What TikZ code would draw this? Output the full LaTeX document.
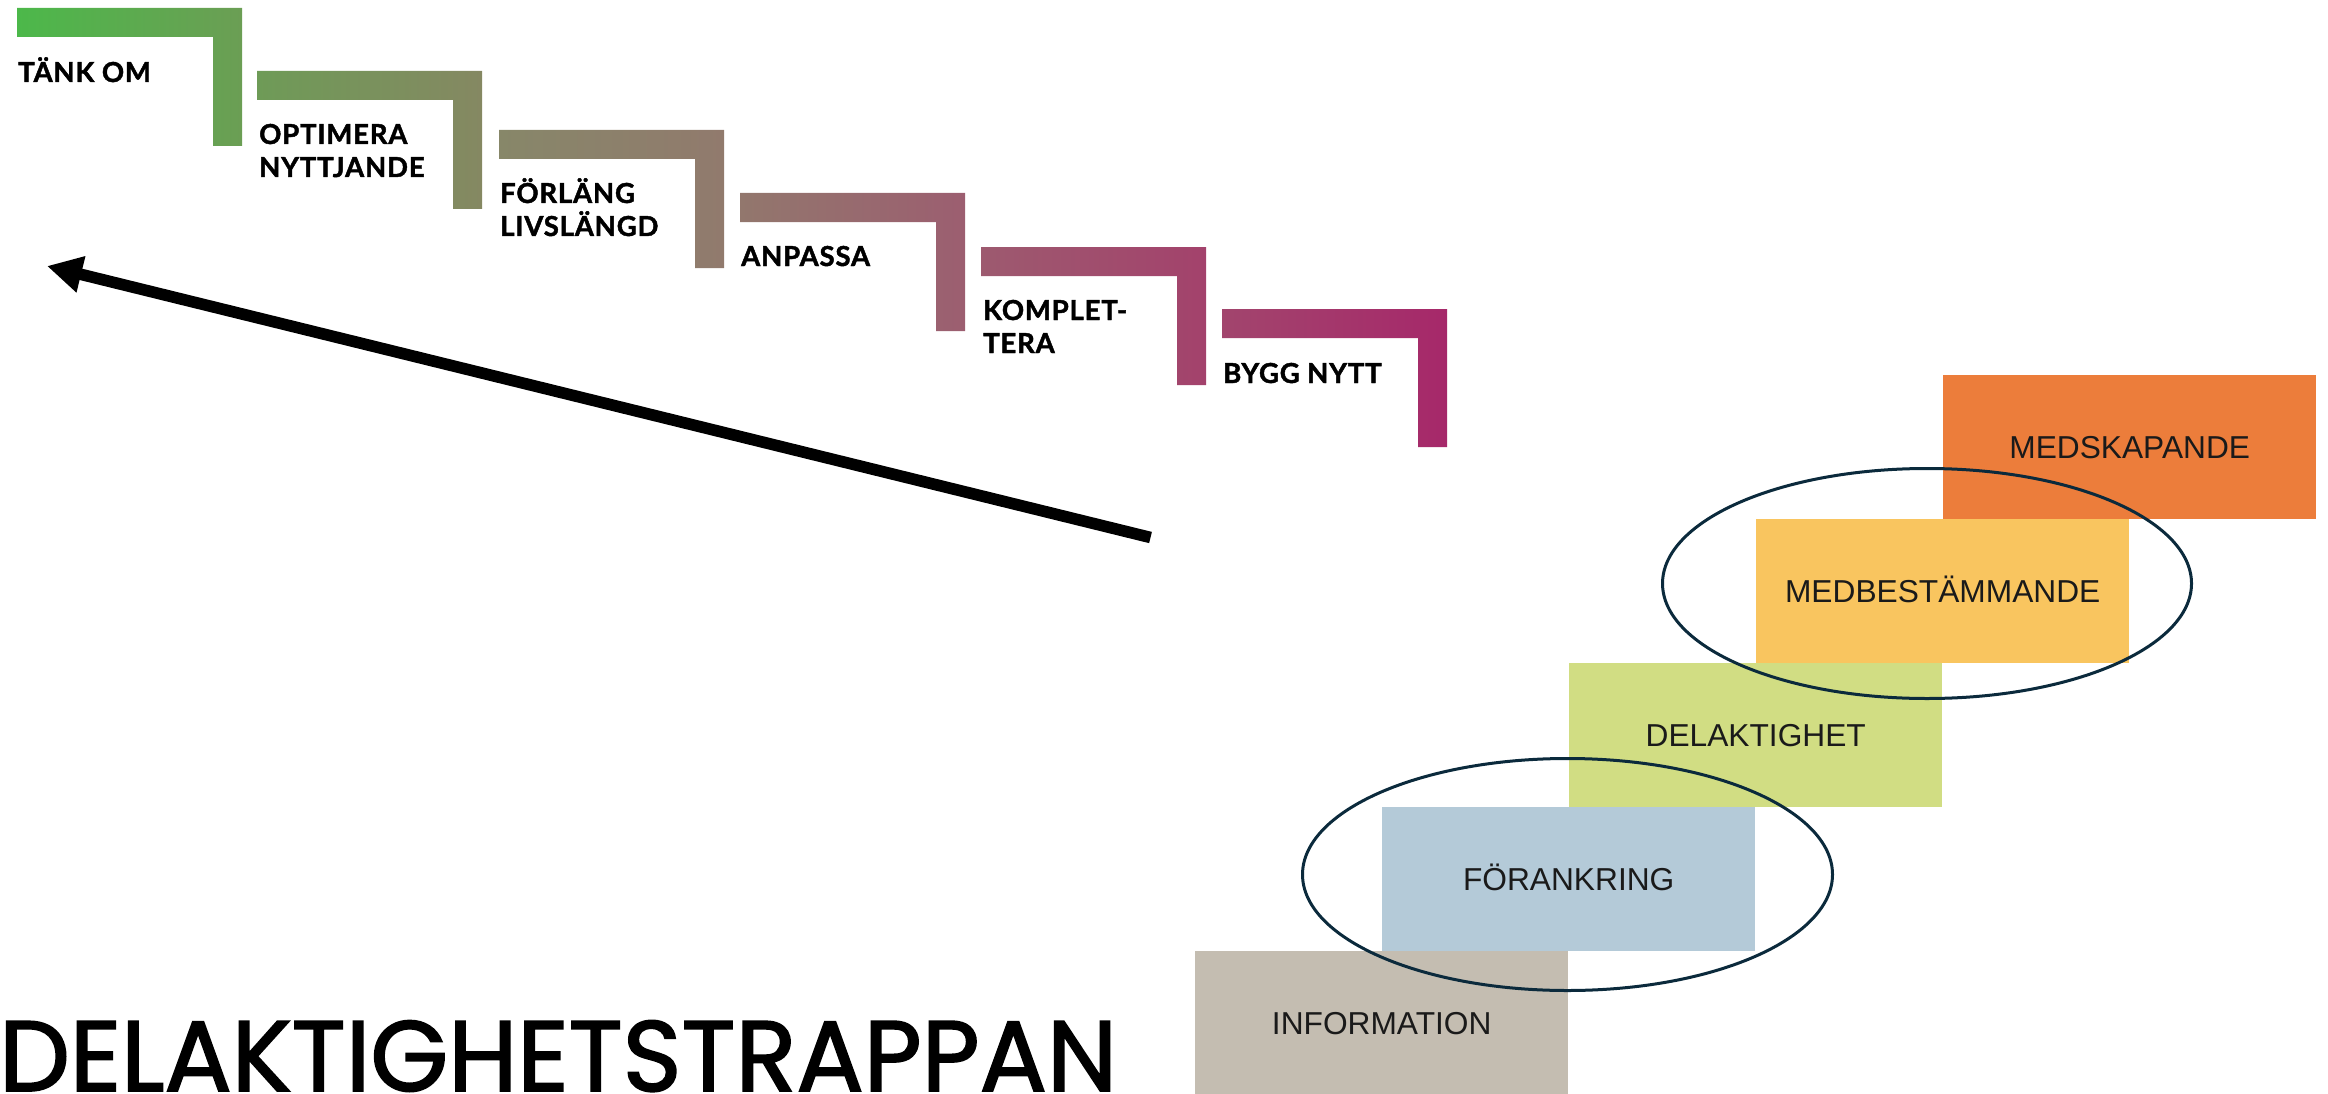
\documentclass[tikz,border=0pt]{standalone}
\usepackage{fontspec}
\setmainfont{Liberation Sans}
\newfontfamily\stepfont[LetterSpace=3, BoldFeatures={FakeBold=1.6}]{Lato}
\newfontfamily\titlefont[FakeBold=1.8]{Poppins}
\usetikzlibrary{arrows.meta}
\definecolor{infoC}{HTML}{C4BDB1}
\definecolor{foraC}{HTML}{B4CAD8}
\definecolor{delaC}{HTML}{D1DD83}
\definecolor{medbC}{HTML}{F9C55F}
\definecolor{medsC}{HTML}{EC7D3B}
\definecolor{ringC}{HTML}{0B2A3C}
\definecolor{textC}{HTML}{1A1A1A}
\definecolor{gA}{HTML}{4CB84A}
\definecolor{gB}{HTML}{6B9E54}
\definecolor{gC}{HTML}{6E9B57}
\definecolor{gD}{HTML}{858862}
\definecolor{gE}{HTML}{878769}
\definecolor{gF}{HTML}{917A6D}
\definecolor{gG}{HTML}{92776D}
\definecolor{gH}{HTML}{9C5E70}
\definecolor{gI}{HTML}{9D5A6F}
\definecolor{gJ}{HTML}{A3426C}
\definecolor{gK}{HTML}{A2456D}
\definecolor{gL}{HTML}{A6286A}
\tikzset{
  levelbox/.style={draw=none, minimum width=373pt, minimum height=144pt,
    inner sep=0pt, anchor=north west, text=textC,
    font=\fontsize{31.7}{32}\selectfont, text height=22.7pt, text depth=0pt},
  steplabel/.style={anchor=base west, inner sep=0pt, align=left,
    font=\stepfont\bfseries\fontsize{27.5}{33}\selectfont, text=black},
  ring/.style={draw=ringC, line width=3pt},
  bigarrow/.style={-{Triangle[length=35pt,width=35pt]}, line width=11.6pt, black}
}
\begin{document}
\begin{tikzpicture}[x=1pt,y=-1pt]
\useasboundingbox (0,0) rectangle (2328,1094);
% staircase of brackets
\foreach \L/\T/\ca/\cb in {17/8/gA/gB, 257/71/gC/gD, 499/130/gE/gF, 740/193/gG/gH, 981/247/gI/gJ, 1222/309/gK/gL}{
  \shade[left color=\ca, right color=\cb] (\L,\T) -- ++(225,0) -- ++(0,138) -- ++(-29,0) -- ++(0,-109) -- ++(-196,0) -- cycle;
}
\node[steplabel] (s1) at (18,82) {TÄNK OM};
\node[steplabel] (s2) at (259,177) {OPTIMERA\\NYTTJANDE};
\node[steplabel] (s3) at (500,236) {FÖRLÄNG\\LIVSLÄNGD};
\node[steplabel] (s4) at (741,266) {ANPASSA};
\node[steplabel] (s5) at (983,353) {KOMPLET-\\TERA};
\node[steplabel] (s6) at (1223,383) {BYGG NYTT};
% arrow
\coordinate (tail) at (1150.5,537.5);
\coordinate (tip) at (47,266);
\draw[bigarrow] (tail) -- (tip);
% participation ladder
\node[levelbox, fill=infoC] (info) at (1195,951) {INFORMATION};
\node[levelbox, fill=foraC] (fora) at (1382,807) {FÖRANKRING};
\node[levelbox, fill=delaC] (dela) at (1569,663) {DELAKTIGHET};
\node[levelbox, fill=medbC] (medb) at (1756,519) {MEDBESTÄMMANDE};
\node[levelbox, fill=medsC] (meds) at (1943,375) {MEDSKAPANDE};
\draw[ring] (1927,583.5) ellipse [x radius=264.5, y radius=115];
\draw[ring] (1567.5,874.5) ellipse [x radius=265, y radius=116];
% title
\node[anchor=base west, inner sep=0pt, font=\titlefont\fontsize{100}{100}\selectfont] (title) at (-1,1091) {DELAKTIGHETSTRAPPAN};
\end{tikzpicture}
\end{document}
